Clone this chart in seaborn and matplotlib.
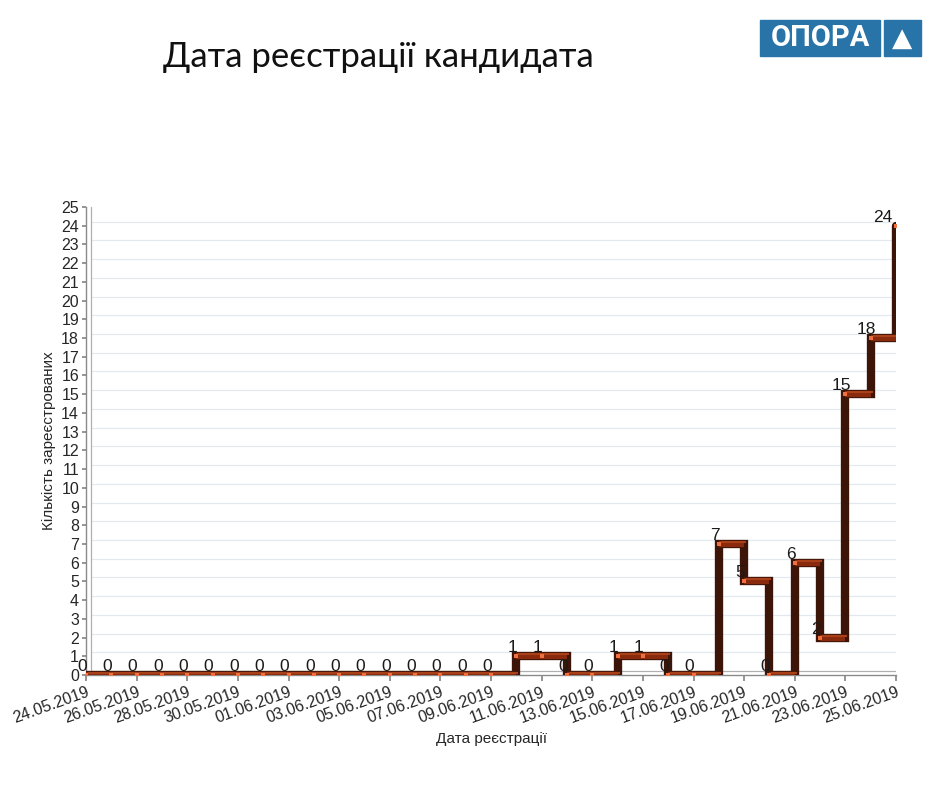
import matplotlib
matplotlib.use("Agg")
import matplotlib.pyplot as plt
import matplotlib.transforms as mtransforms
from matplotlib.patches import Rectangle
import seaborn as sns
import numpy as np

# Registration counts per day, 24.05.2019 .. 25.06.2019
dates = ["24.05.2019", "25.05.2019", "26.05.2019", "27.05.2019", "28.05.2019",
         "29.05.2019", "30.05.2019", "31.05.2019", "01.06.2019", "02.06.2019",
         "03.06.2019", "04.06.2019", "05.06.2019", "06.06.2019", "07.06.2019",
         "08.06.2019", "09.06.2019", "10.06.2019", "11.06.2019", "12.06.2019",
         "13.06.2019", "14.06.2019", "15.06.2019", "16.06.2019", "17.06.2019",
         "18.06.2019", "19.06.2019", "20.06.2019", "21.06.2019", "22.06.2019",
         "23.06.2019", "24.06.2019", "25.06.2019"]
counts = [0, 0, 0, 0, 0, 0, 0, 0, 0, 0, 0, 0, 0, 0, 0, 0, 0,
          1, 1, 0, 0, 1, 1, 0, 0, 7, 5, 0, 6, 2, 15, 18, 24]

title = "Дата реєстрації кандидата"
xlabel = "Дата реєстрації"
ylabel = "Кількість зареєстрованих"

sns.set_theme(style="white")
plt.rcParams["font.family"] = ["Liberation Sans", "DejaVu Sans"]

days = np.arange(len(dates))
vals = np.array(counts)

fig = plt.figure(figsize=(9.4, 7.88), dpi=100)
ax = fig.add_axes([0.0915, 0.1434, 0.8617, 0.5939])

dark = "#3d1408"
rust = "#8a2a0c"

# back wall (shifted a few pixels up/right to fake depth)
shift = mtransforms.offset_copy(ax.transData, fig=fig, x=5, y=4, units="dots")
for yv in range(1, 26):
    ax.plot([0, 32], [yv, yv], color="#e4e9f0", lw=0.9, transform=shift, zorder=0)
ax.plot([0, 0, 32, 32], [25, 0, 0, 25], color="#b0b0b0", lw=0.9,
        transform=shift, zorder=0)
ax.plot([0, 32], [25, 25], color="#b0b0b0", lw=0.9, transform=shift, zorder=0)

# stepped ribbon: dark sides, rust tops
sns.lineplot(x=days, y=vals, drawstyle="steps-post", color=dark, lw=6,
             ax=ax, zorder=3, solid_joinstyle="miter")
ax.hlines(vals[:-1], days[:-1], days[1:], color=rust, lw=4.5, zorder=4)
ax.hlines(vals[:-1], days[:-1], days[1:], color="#a8401a", lw=1.5,
          transform=mtransforms.offset_copy(ax.transData, fig=fig, x=2, y=2,
                                            units="dots"), zorder=4)
ax.scatter(days, vals, marker="s", s=10, color="#f07040", zorder=5, linewidths=0)

# value labels, nudged a little left like the original
lab = mtransforms.offset_copy(ax.transData, fig=fig, x=-4, y=1, units="dots")
for i, (d, v) in enumerate(zip(days, vals)):
    ha = "right" if i == len(days) - 1 else "center"
    ax.text(d, v, str(v), ha=ha, va="bottom", fontsize=12.5,
            color="#1a1a1a", zorder=6, transform=lab)

ax.set_xlim(0, 32)
ax.set_ylim(0, 25)
ax.set_yticks(range(0, 26))
ax.set_xticks(days[::2])
ax.set_xticklabels(dates[::2], rotation=20, ha="right", rotation_mode="anchor",
                   fontsize=11.5)
ax.tick_params(axis="y", labelsize=11.5, length=3, color="#888888", pad=2)
ax.tick_params(axis="x", length=4, color="#888888", pad=3)
ax.tick_params(left=True, bottom=True)

for side in ["top", "right"]:
    ax.spines[side].set_visible(False)
for side in ["left", "bottom"]:
    ax.spines[side].set_color("#8a8a8a")
    ax.spines[side].set_linewidth(1.0)
ax.patch.set_alpha(0)

ax.set_xlabel(xlabel, fontsize=11, labelpad=4)
ax.set_ylabel(ylabel, fontsize=11, labelpad=4)

fig.text(0.403, 0.928, title, ha="center", va="center", fontsize=25,
         family=["Lato", "DejaVu Sans"], color="#111111")

# ОПОРА logo
blue = "#2873a8"
fig.patches.append(Rectangle((760 / 940, 1 - 56 / 788), 120 / 940, 36 / 788,
                             transform=fig.transFigure, color=blue))
fig.patches.append(Rectangle((884 / 940, 1 - 56 / 788), 37 / 940, 36 / 788,
                             transform=fig.transFigure, color=blue))
fig.text(820 / 940, 1 - 38.5 / 788, "ОПОРА", ha="center", va="center",
         fontsize=21, fontweight="bold", color="white",
         family=["Liberation Sans Narrow", "Roboto", "DejaVu Sans"])
fig.text(902.5 / 940, 1 - 39 / 788, "▲", ha="center", va="center",
         fontsize=19, color="white", family=["DejaVu Sans"])

fig.savefig("out.png", dpi=100)
